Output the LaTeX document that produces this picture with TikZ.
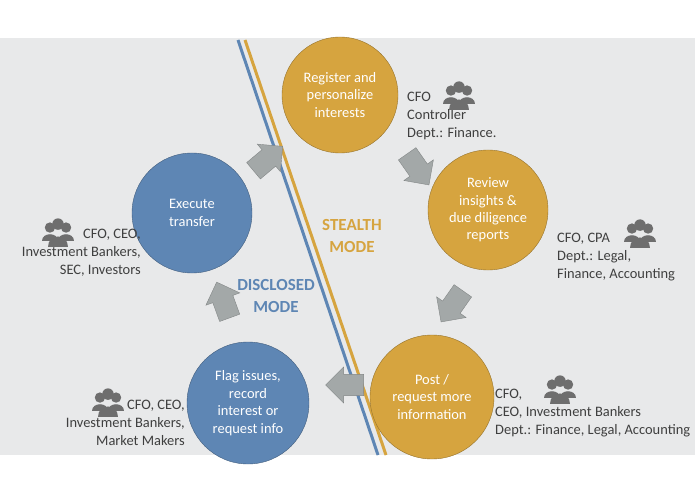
\documentclass[tikz,border=0pt]{standalone}
\usepackage{fontspec}
\setmainfont{Carlito}
\usetikzlibrary{shapes.arrows}
\definecolor{bgColor}{HTML}{E8E9EA}
\definecolor{stealthColor}{HTML}{D6A43F}
\definecolor{disclosedColor}{HTML}{5E86B4}
\definecolor{arrowColor}{HTML}{A3A8A8}
\definecolor{iconColor}{HTML}{6E6E6E}
\definecolor{roleTextColor}{HTML}{3F3F3F}
\tikzset{
  stepNode/.style={circle, minimum size=120bp, inner sep=0pt, align=center,
    text=white, font=\fontsize{14.5}{17.5}\selectfont, draw=#1!70!black, fill=#1},
  flowArrow/.style={single arrow, fill=arrowColor, draw=arrowColor!80!black,
    minimum width=36bp, single arrow head extend=7bp, minimum height=38bp,
    inner ysep=10bp, inner xsep=0pt},
  roleText/.style={text=roleTextColor, font=\fontsize{14.5}{18}\selectfont, inner sep=0pt},
  modeText/.style={font=\bfseries\fontsize{17}{22}\selectfont, align=center}
}
\newcommand{\people}[1]{%
\begin{scope}[shift={#1}, scale=1.15, fill=iconColor]
\fill (-7,-3) circle (4.5); \fill (7,-3) circle (4.5);
\fill (-14,9) .. controls (-14,1) and (0,1) .. (0,9) -- cycle;
\fill (0,9) .. controls (0,1) and (14,1) .. (14,9) -- cycle;
\fill (0,-6) circle (5);
\fill (-9,14) .. controls (-9,2) and (9,2) .. (9,14) -- cycle;
\end{scope}}
\begin{document}
\begin{tikzpicture}[x=1bp,y=-1bp]
\useasboundingbox (0,0) rectangle (695,494);
% background
\fill[bgColor] (0,38) rectangle (695,455);

% mode divider
\coordinate (blueTop) at (238,40);
\coordinate (blueBot) at (378,455);
\coordinate (orangeTop) at (245,40);
\coordinate (orangeBot) at (386,455);
\draw[disclosedColor, line width=3bp] (blueTop) -- (blueBot);
\draw[stealthColor, line width=3bp] (orangeTop) -- (orangeBot);

% steps
\node[stepNode=stealthColor, minimum size=116bp] (register) at (340,95) {Register and\\personalize\\interests};
\node[stepNode=stealthColor] (review) at (488,210) {Review\\insights \&\\due diligence\\reports};
\node[stepNode=stealthColor, minimum size=124bp] (post) at (432,397) {Post /\\request more\\information};
\node[stepNode=disclosedColor, minimum size=122bp] (flag) at (248,403) {Flag issues,\\record\\interest or\\request info};
\node[stepNode=disclosedColor] (execute) at (192,213) {Execute\\transfer};

% flow arrows
\node[flowArrow, rotate=-55] (arrowA) at (415,165) {};
\node[flowArrow, rotate=-125] (arrowB) at (455,302) {};
\node[flowArrow, rotate=180] (arrowC) at (350,385) {};
\node[flowArrow, rotate=110] (arrowD) at (225,305) {};
\node[flowArrow, rotate=40] (arrowE) at (264,162) {};

% modes
\node[modeText, text=stealthColor] (stealth) at (352,236) {STEALTH\\MODE};
\node[modeText, text=disclosedColor] (disclosed) at (276,296) {DISCLOSED\\MODE};

% roles
\node[roleText, anchor=north west, align=left] (registerRoles) at (407,92) {CFO\\Controller\\Dept.: Finance.};
\node[roleText, anchor=north west, align=left] (reviewRoles) at (557,233) {CFO, CPA\\Dept.: Legal,\\Finance, Accounting};
\node[roleText, anchor=north west, align=left] (postRoles) at (495,389) {CFO,\\CEO, Investment Bankers\\Dept.: Finance, Legal, Accounting};
\node[roleText, anchor=north east, align=right] (executeRoles) at (141,229) {CFO, CEO,\\Investment Bankers,\\SEC, Investors};
\node[roleText, anchor=north east, align=right] (flagRoles) at (185,400) {CFO, CEO,\\Investment Bankers,\\Market Makers};

% people icons
\people{(459,94)}
\people{(640,232)}
\people{(560,388)}
\people{(58,231)}
\people{(108,401)}
\end{tikzpicture}
\end{document}
